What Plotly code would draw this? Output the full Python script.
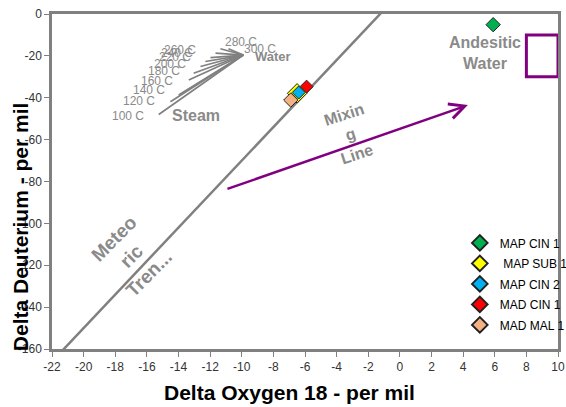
import plotly.graph_objects as go

# ---------------- data ----------------
sample_names = ["MAP CIN 1", "\u00a0MAP SUB 1", "MAP CIN 2", "MAD CIN 1", "MAD MAL 1"]
sample_d18o = [5.9, -6.5, -6.4, -5.9, -6.9]
sample_dd = [-5.1, -37.9, -37.5, -34.7, -41.1]

steam_temps = ["100 C", "120 C", "140 C", "160 C", "180 C", "200 C",
               "220 C", "240 C", "260 C", "280 C", "300 C"]
steam_d18o = [-15.25, -14.51, -13.99, -13.35, -13.04, -12.61,
              -12.30, -11.98, -11.66, -11.35, -10.84]
steam_dd = [-48.0, -41.9, -38.7, -31.5, -28.3, -25.1,
            -22.7, -20.8, -18.7, -16.6, -16.6]
water_d18o = -9.9
water_dd = -19.6

mwl_slope = 8
mwl_intercept = 10
mwl_d18o = [-22, 0]

mixing_start = (-11.0, -83.8)
mixing_end = (4.3, -43.5)

andesitic_d18o = [8, 10]
andesitic_dd = [-30, -10]

x_ticks = list(range(-22, 11, 2))
y_ticks = list(range(-160, 1, 20))

# ---------------- styles ----------------
GRAY = "#808080"
TXT_GRAY = "#8a8a8a"
PURPLE = "#800080"
FONT = "Arial, Liberation Sans, sans-serif"
sample_colors = ["#00B050", "#FFFF00", "#00B0F0", "#FF0000", "#F4B183"]
sample_sizes = [11, 15, 10, 10, 11]
draw_order = [3, 1, 2, 4, 0]

fig = go.Figure()

# meteoric water line
fig.add_trace(go.Scatter(
    x=mwl_d18o, y=[mwl_slope * v + mwl_intercept for v in mwl_d18o],
    mode="lines", line=dict(color=GRAY, width=2.5),
    showlegend=False, hoverinfo="skip"))

# steam lines
sx, sy = [], []
for xs, ys in zip(steam_d18o, steam_dd):
    sx += [xs, water_d18o, None]
    sy += [ys, water_dd, None]
fig.add_trace(go.Scatter(x=sx, y=sy, mode="lines",
                         line=dict(color=GRAY, width=1.7),
                         showlegend=False, hoverinfo="skip"))

# samples
for i in draw_order:
    fig.add_trace(go.Scatter(
        x=[sample_d18o[i]], y=[sample_dd[i]], mode="markers",
        name=sample_names[i], legendrank=i + 1, legendgroup="g%d" % i,
        marker=dict(symbol="diamond", size=sample_sizes[i],
                    color=sample_colors[i],
                    line=dict(color="#222222", width=1))))

annotations = []

# temperature labels
label_shift = [(-13, -1), (-13, 1), (-12, 5), (-14, -1), (-12, 2), (-12, 3),
               (-12, 5), (-15, 5), (-18, 3), (3, 7), (14, 0)]
for k, t in enumerate(steam_temps):
    dx, dy = label_shift[k]
    annotations.append(dict(
        x=steam_d18o[k], y=steam_dd[k], xref="x", yref="y", text=t,
        showarrow=False, xanchor="right" if dx < 0 else "left",
        yanchor="middle", xshift=dx, yshift=dy,
        font=dict(family=FONT, size=12, color=TXT_GRAY)))

annotations += [
    dict(x=-12.92, y=-48.3, text="<b>Steam</b>", showarrow=False,
         font=dict(family=FONT, size=16, color=TXT_GRAY)),
    dict(x=-8.0, y=-20.3, text="<b>Water</b>", showarrow=False,
         font=dict(family=FONT, size=13, color=TXT_GRAY)),
    dict(x=5.36, y=-18.6, text="<b>Andesitic<br>Water</b>", showarrow=False,
         font=dict(family=FONT, size=16, color=TXT_GRAY)),
    dict(x=-3.12, y=-57.4, text="<b>Mixin<br>g<br>Line</b>", showarrow=False,
         textangle=-18, font=dict(family=FONT, size=16, color=TXT_GRAY)),
    dict(x=-17.0, y=-115.4, text="<b>Meteo<br>ric<br>Tren...</b>", showarrow=False,
         textangle=-45, font=dict(family=FONT, size=19, color=TXT_GRAY)),
    # mixing arrow
    dict(x=mixing_end[0], y=mixing_end[1], ax=mixing_start[0], ay=mixing_start[1],
         xref="x", yref="y", axref="x", ayref="y", text="", showarrow=True,
         arrowhead=5, arrowsize=1.2, arrowwidth=2.5, arrowcolor=PURPLE),
    # axis titles
    dict(x=0.470, y=-0.131, xref="paper", yref="paper",
         xanchor="center", yanchor="middle",
         text="<b>Delta Oxygen 18 - per mil</b>", showarrow=False,
         font=dict(family=FONT, size=21, color="#000000")),
    dict(x=-0.063, y=0.364, xref="paper", yref="paper",
         xanchor="center", yanchor="middle",
         text="<b>Delta Deuterium - per mil</b>", showarrow=False, textangle=-90,
         font=dict(family=FONT, size=21, color="#000000")),
]

fig.add_shape(type="rect", x0=andesitic_d18o[0], x1=andesitic_d18o[1],
              y0=andesitic_dd[0], y1=andesitic_dd[1],
              line=dict(color=PURPLE, width=3), xref="x", yref="y")

axis_common = dict(showline=True, mirror=True, linecolor=GRAY, linewidth=2.5,
                   showgrid=False, zeroline=False, ticks="outside",
                   ticklen=5, tickcolor=GRAY, tickwidth=1,
                   tickfont=dict(family=FONT, size=12, color="#333333"))

fig.update_layout(
    width=566, height=407,
    margin=dict(l=52, r=8, t=14, b=58, autoexpand=False),
    paper_bgcolor="white", plot_bgcolor="white",
    font=dict(family=FONT),
    xaxis=dict(range=[-22, 10], tickvals=x_ticks,
               ticktext=[str(v) for v in x_ticks], **axis_common),
    yaxis=dict(range=[-160, 0], tickvals=y_ticks,
               ticktext=[str(v) for v in y_ticks], **axis_common),
    legend=dict(x=0.806, y=0.36, xanchor="left", yanchor="top",
                bgcolor="rgba(0,0,0,0)", itemsizing="constant",
                tracegroupgap=1.5,
                font=dict(family=FONT, size=12, color="#000000")),
    annotations=annotations,
    showlegend=True,
)

fig.write_html("out.html")
